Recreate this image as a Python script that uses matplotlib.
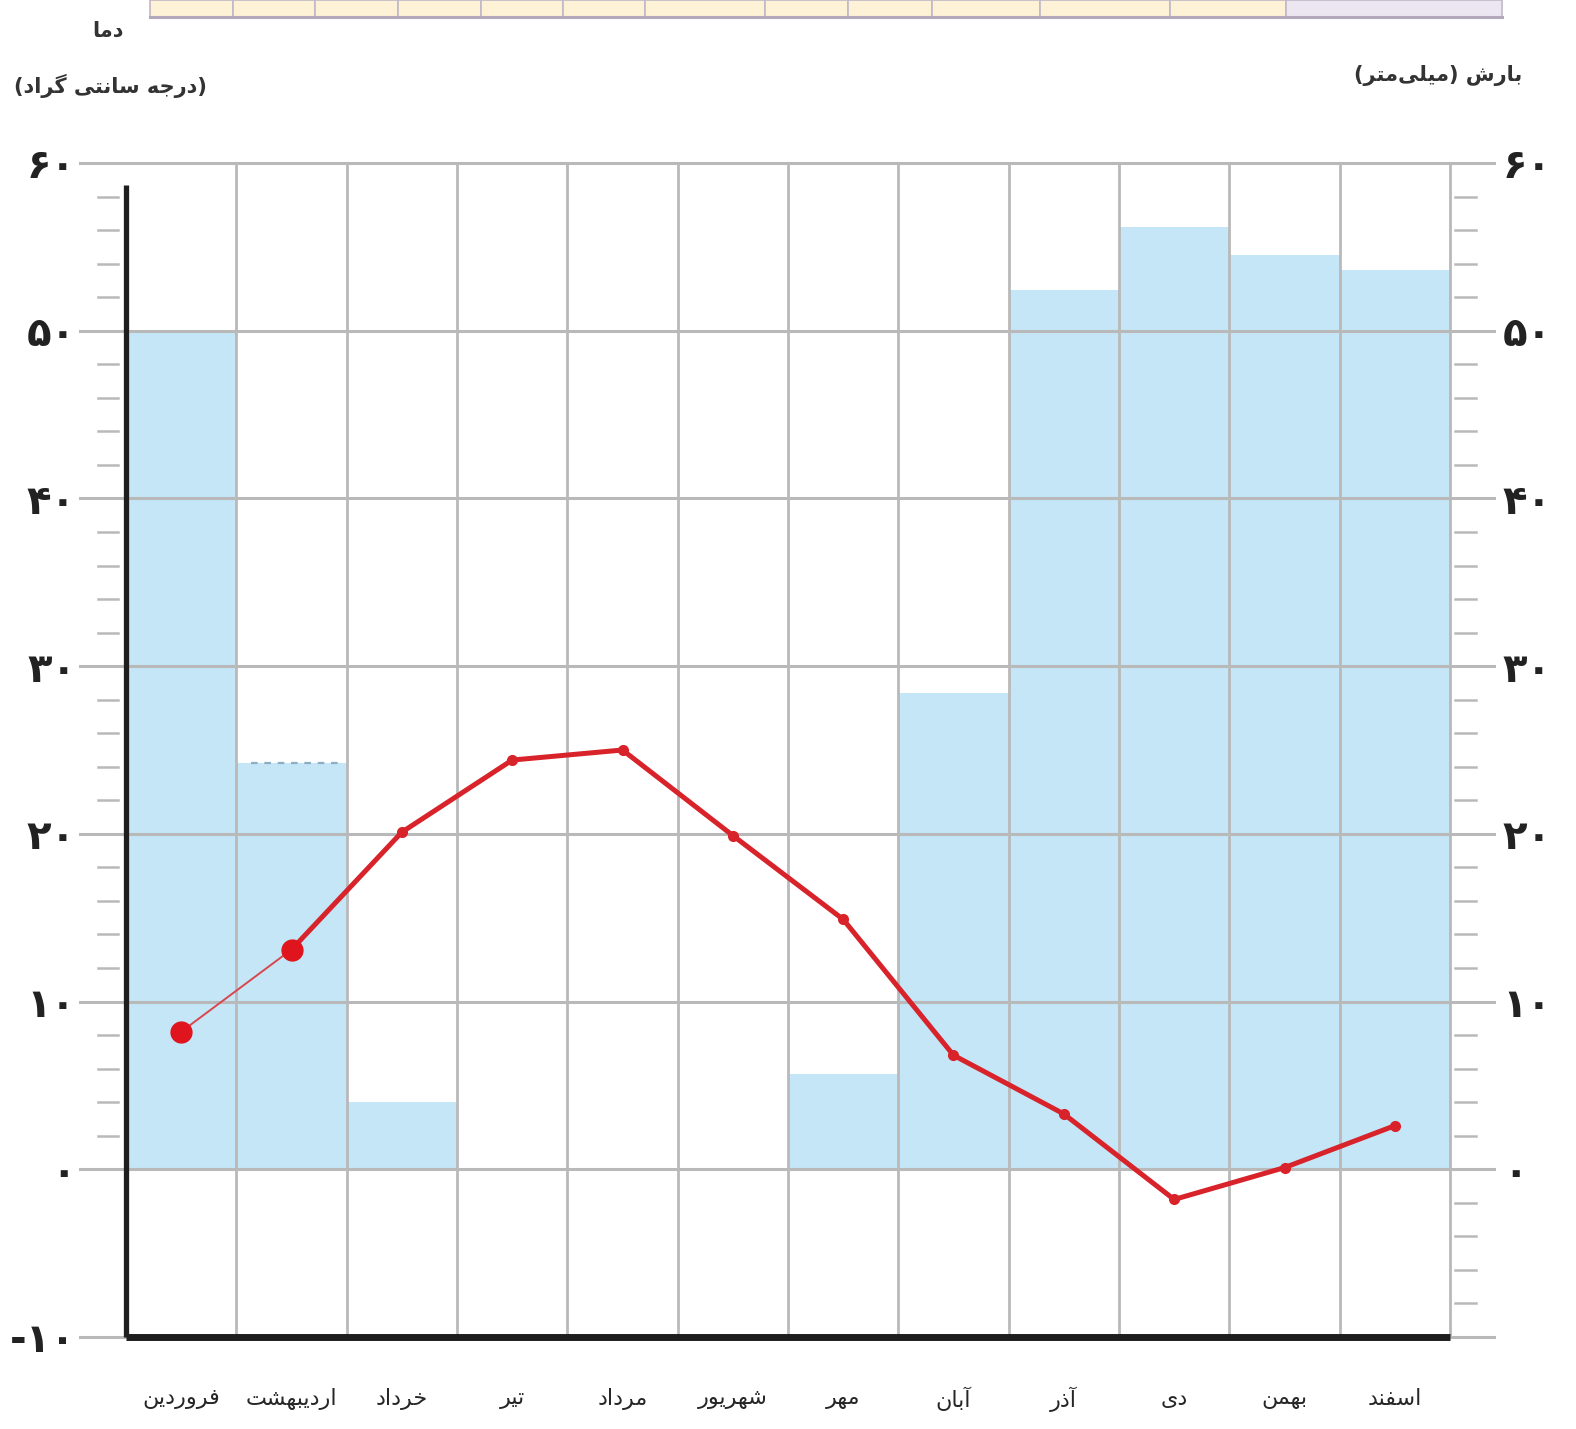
import matplotlib

matplotlib.use("Agg")
import matplotlib.pyplot as plt
import matplotlib.transforms as mtransforms
from matplotlib.patches import Rectangle

months = ["فروردین", "اردیبهشت", "خرداد", "تیر", "مرداد", "شهریور",
          "مهر", "آبان", "آذر", "دی", "بهمن", "اسفند"]
precip = [50.0, 24.2, 4.0, 0.0, 0.0, 0.0, 5.7, 28.4, 52.4, 56.2, 54.5, 53.6]
temp = [8.2, 13.1, 20.1, 24.4, 25.0, 19.9, 14.9, 6.8, 3.3, -1.8, 0.1, 2.6]
left_ticks = [-10, 0, 10, 20, 30, 40, 50, 60]
right_ticks = [0, 10, 20, 30, 40, 50, 60]

FA_DIGITS = str.maketrans("0123456789", "۰۱۲۳۴۵۶۷۸۹")

# presentation forms: isolated, final, initial, medial
FORMS = {
    "ا": ("\uFE8D", "\uFE8E"), "آ": ("\uFE81", "\uFE82"),
    "د": ("\uFEA9", "\uFEAA"), "ذ": ("\uFEAB", "\uFEAC"),
    "ر": ("\uFEAD", "\uFEAE"), "ز": ("\uFEAF", "\uFEB0"),
    "و": ("\uFEED", "\uFEEE"),
    "ب": ("\uFE8F", "\uFE90", "\uFE91", "\uFE92"),
    "ت": ("\uFE95", "\uFE96", "\uFE97", "\uFE98"),
    "ج": ("\uFE9D", "\uFE9E", "\uFE9F", "\uFEA0"),
    "خ": ("\uFEA5", "\uFEA6", "\uFEA7", "\uFEA8"),
    "س": ("\uFEB1", "\uFEB2", "\uFEB3", "\uFEB4"),
    "ش": ("\uFEB5", "\uFEB6", "\uFEB7", "\uFEB8"),
    "ف": ("\uFED1", "\uFED2", "\uFED3", "\uFED4"),
    "ل": ("\uFEDD", "\uFEDE", "\uFEDF", "\uFEE0"),
    "م": ("\uFEE1", "\uFEE2", "\uFEE3", "\uFEE4"),
    "ن": ("\uFEE5", "\uFEE6", "\uFEE7", "\uFEE8"),
    "ه": ("\uFEE9", "\uFEEA", "\uFEEB", "\uFEEC"),
    "ی": ("\uFBFC", "\uFBFD", "\uFBFE", "\uFBFF"),
    "گ": ("\uFB92", "\uFB93", "\uFB94", "\uFB95"),
}
MIRROR = {"(": ")", ")": "("}


def fa(text):
    """Shape Persian text and put it in visual (left-to-right) order."""
    out = []
    n = len(text)
    for i, ch in enumerate(text):
        if ch not in FORMS:
            if ch != "\u200c":
                out.append(MIRROR.get(ch, ch))
            continue
        prev = text[i - 1] if i > 0 else ""
        nxt = text[i + 1] if i + 1 < n else ""
        join_prev = prev in FORMS and len(FORMS[prev]) == 4
        join_next = len(FORMS[ch]) == 4 and nxt in FORMS
        f = FORMS[ch]
        if join_prev and join_next:
            out.append(f[3])
        elif join_prev:
            out.append(f[1])
        elif join_next:
            out.append(f[2])
        else:
            out.append(f[0])
    return "".join(reversed(out))


def fa_num(v):
    s = str(abs(v)).translate(FA_DIGITS)
    return ("-" if v < 0 else "") + s


FONT = ["DejaVu Sans"]
W, H = 1576, 1429
fig = plt.figure(figsize=(W / 100, H / 100), dpi=100)
ax = fig.add_axes([126 / W, 92 / H, (1450 - 126) / W, (1337 - 163) / H])
ax.set_xlim(-0.5, len(months) - 0.5)
ax.set_ylim(-10, 60)
for s in ax.spines.values():
    s.set_visible(False)

x = list(range(len(months)))
bar_color = "#c4e6f7"
grid_color = "#b9b9b9"
ax.bar(x, precip, width=1.0, color=bar_color, zorder=1)
ax.hlines(precip[1], 0.63, 1.47, colors="#8aaec4", linestyles=(0, (3, 3)),
          lw=1.6, zorder=3)

# grid: horizontal lines run past the frame, vertical lines at column edges
blend = mtransforms.blended_transform_factory(ax.transAxes, ax.transData)
for t in left_ticks:
    ax.plot([-0.035, 1.033], [t, t], color=grid_color, lw=2.2,
            transform=blend, clip_on=False, zorder=2)
for i in range(len(months)):
    ax.plot([i + 0.5, i + 0.5], [-10, 60], color=grid_color, lw=2.0,
            clip_on=False, zorder=2)

# small marks every 2 units
for v in range(-10, 61, 2):
    if v % 10 == 0:
        continue
    if v > 0:
        ax.plot([-0.021, -0.006], [v, v], color=grid_color, lw=1.8,
                transform=blend, clip_on=False, zorder=2)
    ax.plot([1.004, 1.020], [v, v], color=grid_color, lw=1.8,
            transform=blend, clip_on=False, zorder=2)

# black axis lines
ax.plot([-0.5, -0.5], [-10, 58.7], color="#1e1e1e", lw=3.8, zorder=5,
        solid_capstyle="butt", clip_on=False)
ax.plot([-0.5, len(months) - 0.5], [-10, -10], color="#1e1e1e", lw=5.0,
        zorder=5, solid_capstyle="butt", clip_on=False)

# temperature line
red = "#d8232b"
ax.plot(x[:2], temp[:2], color="#d9474d", lw=1.4, zorder=6)
ax.plot(x[1:], temp[1:], color=red, lw=3.6, marker="o", ms=7, zorder=6)
ax.plot(x[:2], temp[:2], ls="none", marker="o", ms=15, color="#e0141c",
        zorder=7)

# tick labels
ax.set_xticks([])
ax.set_yticks(left_ticks)
ax.set_yticklabels([fa_num(t) for t in left_ticks], family=FONT,
                   fontsize=29, fontweight="bold", color="#222222")
ax.tick_params(axis="y", length=0, pad=36)
ax2 = ax.twinx()
ax2.set_ylim(ax.get_ylim())
for s in ax2.spines.values():
    s.set_visible(False)
ax2.set_yticks(right_ticks)
ax2.set_yticklabels([fa_num(t) for t in right_ticks], family=FONT,
                    fontsize=29, fontweight="bold", color="#222222")
ax2.tick_params(axis="y", length=0, pad=38)

for i, m in enumerate(months):
    ax.text(i, -13.7, fa(m), ha="center", va="center", family=FONT,
            fontsize=16, color="#262626")

# axis titles
fig.text(108 / W, 1 - 31 / H, fa("دما"), ha="center", va="center",
         family=FONT, fontsize=15, fontweight="bold", color="#333333")
fig.text(110 / W, 1 - 86 / H, fa("(درجه سانتی گراد)"), ha="center",
         va="center", family=FONT, fontsize=15, fontweight="bold",
         color="#333333")
fig.text(1438 / W, 1 - 76 / H, fa("بارش (میلی\u200cمتر)"), ha="center",
         va="center", family=FONT, fontsize=15, fontweight="bold",
         color="#333333")

# clipped strip of the data table above the chart
edges = [150, 233, 315, 398, 481, 563, 645, 765, 848, 932, 1040, 1170,
         1286, 1502]
strip_y = 1 - 17 / H
for i in range(len(edges) - 1):
    fc = "#ece6f1" if i == len(edges) - 2 else "#fdf1d6"
    fig.add_artist(Rectangle((edges[i] / W, strip_y),
                             (edges[i + 1] - edges[i]) / W, 1 - strip_y,
                             transform=fig.transFigure, facecolor=fc,
                             edgecolor="#c2b8c8", lw=1.2))
fig.add_artist(plt.Line2D([edges[0] / W, edges[-1] / W], [strip_y, strip_y],
                          transform=fig.transFigure, color="#b4a9bc", lw=2.2))

fig.savefig("out.png", dpi=100)
